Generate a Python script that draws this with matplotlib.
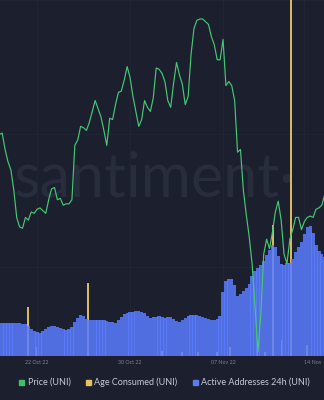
import matplotlib
matplotlib.use('Agg')
import matplotlib.pyplot as plt
from matplotlib.lines import Line2D
import pandas as pd

# ---------------- data ----------------
start = '2022-10-18 18:00'   # 6-hourly samples

price = [6.57, 6.58, 6.46, 6.37, 6.31, 6.16, 5.96, 5.89, 5.88, 5.96,
         5.94, 6.00, 5.99, 6.02, 6.03, 6.01, 5.99, 6.09, 6.17, 6.18,
         6.09, 6.10, 6.05, 6.06, 6.06, 6.09, 6.49, 6.53, 6.63, 6.62,
         6.60, 6.66, 6.74, 6.82, 6.76, 6.70, 6.60, 6.49, 6.69, 6.68,
         6.79, 6.88, 6.89, 6.97, 7.07, 6.99, 6.85, 6.74, 6.63, 6.68,
         6.82, 6.77, 6.74, 6.84, 7.06, 7.05, 7.02, 6.96, 6.82, 6.77,
         6.95, 7.10, 7.01, 6.94, 6.79, 6.85, 7.16, 7.35, 7.41, 7.42,
         7.42, 7.40, 7.38, 7.29, 7.23, 7.12, 7.12, 7.27, 6.93, 6.96,
         6.93, 6.82, 6.44, 6.46, 6.16, 5.98, 5.82, 5.62, 5.31, 4.97,
         5.24, 5.69, 5.80, 5.73, 5.85, 6.00, 6.08, 5.94, 5.69, 5.62,
         5.80, 5.87, 5.96, 5.96, 5.87, 5.93, 5.96, 5.97, 5.96, 6.02,
         6.03, 6.05, 6.13]

active_addresses = [1485, 1485, 1485, 1485, 1485, 1485, 1485, 1485, 1440, 1440,
                    1350, 1215, 1125, 1080, 1035, 1125, 1215, 1305, 1350, 1350,
                    1305, 1260, 1215, 1170, 1215, 1305, 1530, 1710, 1845, 1800,
                    1665, 1620, 1620, 1620, 1620, 1620, 1620, 1575, 1530, 1530,
                    1485, 1620, 1755, 1890, 1935, 1980, 1980, 2025, 2025, 1980,
                    1935, 1800, 1710, 1755, 1755, 1800, 1755, 1710, 1755, 1755,
                    1665, 1575, 1530, 1620, 1710, 1800, 1845, 1845, 1845, 1800,
                    1755, 1710, 1665, 1620, 1620, 1665, 1800, 2880, 3375, 3465,
                    3465, 3195, 2700, 2790, 2925, 3060, 3240, 3600, 3825, 3960,
                    4095, 4275, 4545, 4770, 4995, 4905, 4500, 4140, 4095, 4185,
                    4185, 4365, 4680, 4905, 5130, 5490, 5805, 5850, 5535, 4995,
                    4725, 4590, 4455]

age_times = ['2022-10-21 06:00', '2022-10-21 22:00', '2022-10-26 09:00',
             '2022-11-01 18:00', '2022-11-03 11:00', '2022-11-04 20:00',
             '2022-11-06 11:00', '2022-11-07 14:00', '2022-11-09 22:00',
             '2022-11-10 15:00', '2022-11-11 07:00', '2022-11-12 02:00',
             '2022-11-12 20:00', '2022-11-14 06:00']
age_consumed = [5.5e6, 1.0e6, 8.2e6,
                0.6e6, 0.4e6, 0.5e6,
                0.5e6, 1.0e6, 0.7e6,
                0.5e6, 14.7e6, 1.8e6,
                60e6, 1.2e6]

tick_dates = ['2022-10-22', '2022-10-30', '2022-11-07', '2022-11-14']
tick_labels = ['22 Oct 22', '30 Oct 22', '07 Nov 22', '14 Nov']

legend_labels = ['Price (UNI)', 'Age Consumed (UNI)', 'Active Addresses 24h (UNI)']

# ---------------- style ----------------
BG = '#1b1f2e'
GREEN = '#46c873'
YELLOW = '#d9b860'
BLUE = '#5a7dff'
plt.rcParams['font.family'] = ['Lato', 'DejaVu Sans']

times = pd.date_range(start, periods=len(price), freq='6h')
age_t = pd.to_datetime(age_times)

fig = plt.figure(figsize=(3.24, 4.0), dpi=100, facecolor=BG)
ax_age = fig.add_axes([0, 0.11, 1, 0.89])
ax_age.set_facecolor(BG)
ax_addr = ax_age.twinx()
ax_price = ax_age.twinx()

# watermark
ax_age.text(0.478, 0.447, 'santiment\u00b7', transform=ax_age.transAxes,
            ha='center', va='baseline', fontsize=44, color='#282d3e', zorder=0.5)

# age consumed (beneath addresses)
ax_age.bar(age_t, age_consumed, width=0.16, color=YELLOW, zorder=2)
ax_age.set_ylim(0, 40e6)

# active addresses
ax_addr.bar(times, active_addresses, width=0.28, color=BLUE, alpha=0.85,
            linewidth=0, zorder=2)
ax_addr.set_ylim(0, 16000)

# price
ax_price.plot(times, price, color=GREEN, lw=0.85, zorder=3)
ax_price.set_ylim(4.94, 7.56)

xmin = pd.Timestamp('2022-10-18 19:30')
xmax = pd.Timestamp('2022-11-15 16:30')
for a in (ax_age, ax_addr, ax_price):
    a.set_xlim(xmin, xmax)
    for s in a.spines.values():
        s.set_visible(False)
    a.tick_params(axis='y', left=False, right=False, labelleft=False, labelright=False)

# faint grid (behind everything)
ax_age.set_yticks([10e6, 25e6, 40e6])
ax_age.grid(axis='both', color='#222736', lw=0.6, zorder=0)
ax_age.set_axisbelow(True)

ax_age.set_xticks(pd.to_datetime(tick_dates))
ax_age.set_xticklabels(tick_labels)
ax_age.tick_params(axis='x', length=0, pad=3, labelsize=3.8, labelcolor='#7d8394')
ax_age.get_xticklabels()[-1].set_ha('left')
ax_addr.tick_params(axis='x', bottom=False, labelbottom=False)
ax_price.tick_params(axis='x', bottom=False, labelbottom=False)

handles = [Line2D([], [], marker='s', ls='', color=c, markersize=3.6)
           for c in ('#3fbf6a', '#e6c35c', '#5b7cf0')]
fig.legend(handles, legend_labels, loc='center', bbox_to_anchor=(0.505, 0.045),
           ncol=3, frameon=False, fontsize=6.5, handlelength=0.8,
           handletextpad=0.35, columnspacing=1.5, labelcolor='#c8cbd5')

fig.savefig('out.png', dpi=100, facecolor=BG)
